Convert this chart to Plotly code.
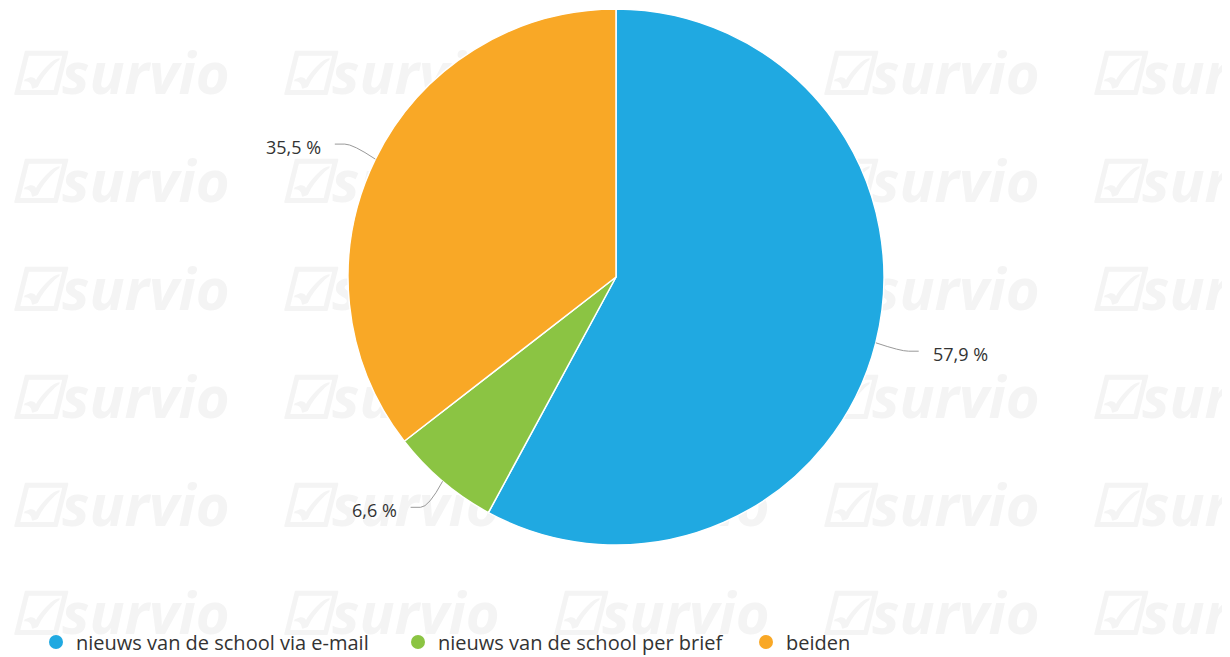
import math
import plotly.graph_objects as go

categories = ["nieuws van de school via e-mail", "nieuws van de school per brief", "beiden"]
values = [57.9, 6.6, 35.5]
label_texts = ["57,9 %", "6,6 %", "35,5 %"]
colors = ["#20a9e1", "#8bc443", "#f9a826"]

# page has an 8px body margin; work in page pixel coordinates
OFF = 8
PW, PH = 1230, 657
W, H = PW - OFF, PH - OFF
cx, cy, R = 616, 277, 268
FONT = "Open Sans"


def px2paper_x(px):
    return (px - OFF) / W


def px2paper_y(py):
    return 1 - (py - OFF) / H


fig = go.Figure()

# watermark grid (drawn on cartesian layer, under the pie)
wm_x, wm_y, wm_t = [], [], []
for col in range(5):
    for row in range(6):
        wm_x.append(10 + col * 270)
        wm_y.append(79 + row * 108)
        wm_t.append("<b><i>☑survio</i></b>")
fig.add_trace(go.Scatter(
    x=wm_x, y=wm_y, text=wm_t, mode="text", textposition="middle right",
    textfont=dict(family=FONT, size=58, color="#f4f4f4"),
    hoverinfo="skip", showlegend=False, cliponaxis=True))

fig.add_trace(go.Pie(
    labels=categories, values=values, sort=False, direction="clockwise", rotation=0,
    marker=dict(colors=colors, line=dict(color="white", width=1.5)),
    textinfo="none", hoverinfo="label+percent", showlegend=False,
    domain=dict(x=[px2paper_x(cx - R), px2paper_x(cx + R)],
                y=[px2paper_y(cy + R), px2paper_y(cy - R)])))

# legend entries (circle markers), one legend each for exact placement
legend_x = [36, 398, 746]
for i, (cat, col) in enumerate(zip(categories, colors)):
    name = "legend" if i == 0 else f"legend{i+1}"
    fig.add_trace(go.Scatter(
        x=[None], y=[None], mode="markers", name=cat,
        marker=dict(symbol="circle", size=14, color=col),
        showlegend=True, legend=name))
    fig.update_layout({name: dict(
        x=px2paper_x(legend_x[i]), y=px2paper_y(642), xanchor="left", yanchor="middle",
        orientation="h", bgcolor="rgba(0,0,0,0)",
        font=dict(family=FONT, size=20, color="#333333"))})

# leader lines and outside labels computed from slice angles
total = sum(values)
cum = 0
shapes, annotations = [], []
for v, t in zip(values, label_texts):
    mid = (cum + v / 2) / total * 2 * math.pi
    cum += v
    s, c = math.sin(mid), math.cos(mid)
    p0 = (cx + R * s, cy - R * c)
    p1 = (cx + (R + 34) * s, cy - (R + 34) * c)
    side = 1 if s >= 0 else -1
    p2 = (p1[0] + 10 * side, p1[1])
    path = "M {:.1f},{:.1f} Q {:.1f},{:.1f} {:.1f},{:.1f} L {:.1f},{:.1f}".format(
        p0[0], p0[1], p1[0] - 8 * side, p1[1], p1[0], p1[1], p2[0], p2[1])
    shapes.append(dict(type="path", path=path, xref="x", yref="y",
                       line=dict(color="#999999", width=1)))
    annotations.append(dict(
        x=p2[0] + 12 * side, y=p1[1] + 3, xref="x", yref="y", text=t, showarrow=False,
        xanchor="left" if side > 0 else "right", yanchor="middle",
        font=dict(family=FONT, size=18, color="#333333")))

fig.update_layout(
    width=W, height=H, margin=dict(l=0, r=0, t=0, b=0, autoexpand=False),
    paper_bgcolor="white", plot_bgcolor="white",
    xaxis=dict(range=[OFF, PW], visible=False, fixedrange=True, domain=[0, 1]),
    yaxis=dict(range=[PH, OFF], visible=False, fixedrange=True, domain=[0, 1]),
    shapes=shapes, annotations=annotations,
)

fig.write_html("out.html")
